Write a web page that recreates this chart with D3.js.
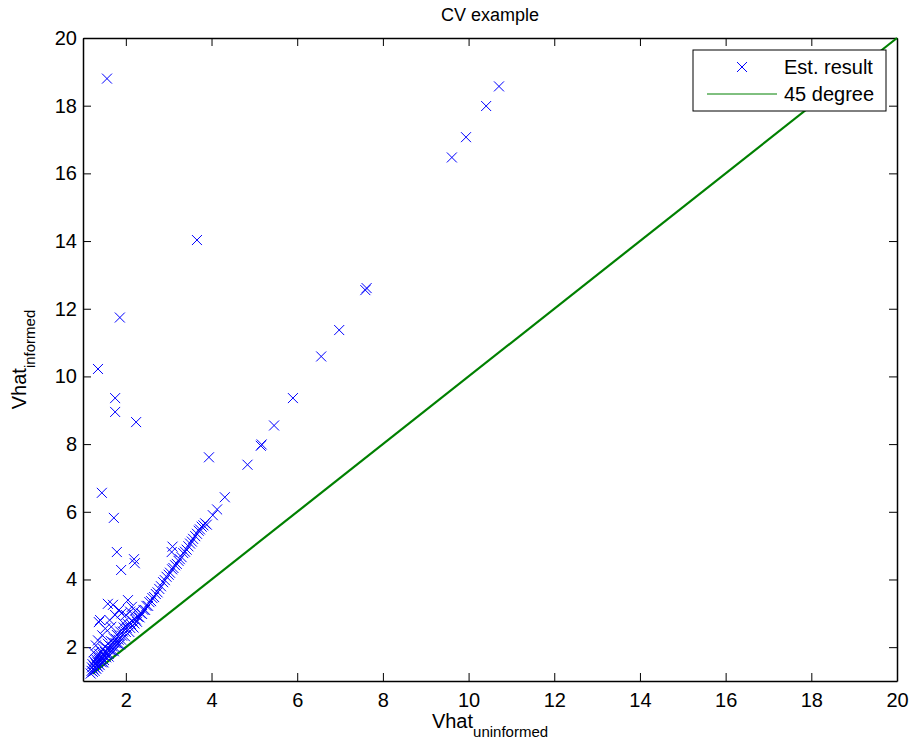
<!DOCTYPE html>
<html>
<head>
<meta charset="utf-8">
<script src="https://cdn.jsdelivr.net/npm/d3@7"></script>
<style>
  body { margin: 0; background: #fff; }
  text { font-family: "Liberation Sans", Arial, sans-serif; fill: #000; }
</style>
</head>
<body>
<div id="chart"></div>
<script>
// estimated results (Vhat uninformed, Vhat informed)
const vhatUninformed = [
  1.56, 3.66, 1.86, 1.35, 1.75, 1.75, 2.24, 3.94, 1.44, 1.72, 1.79, 1.89, 2.19, 2.21, 3.09, 3.07,
  10.71, 10.41, 9.94, 9.61, 7.62, 7.59, 6.98, 6.56, 5.90, 5.46, 5.15, 5.17, 4.84, 4.31, 4.13, 4.03, 3.89,
  1.18, 1.20, 1.21, 1.22, 1.23, 1.24, 1.25, 1.26, 1.27, 1.28, 1.29, 1.30, 1.31, 1.32, 1.33, 1.34,
  1.35, 1.36, 1.37, 1.38, 1.39, 1.40, 1.41, 1.42, 1.44, 1.45, 1.46, 1.47, 1.49, 1.50, 1.51, 1.52,
  1.54, 1.55, 1.57, 1.58,
  1.60, 1.62, 1.63, 1.65, 1.67, 1.68, 1.70, 1.72, 1.74, 1.76, 1.77, 1.79, 1.81, 1.83, 1.85, 1.87,
  1.89, 1.91, 1.93, 1.95, 1.98, 2.00, 2.02, 2.05, 2.08, 2.10, 2.12, 2.15, 2.18, 2.20, 2.23,
  2.26, 2.28, 2.32, 2.35, 2.38, 2.41, 2.45, 2.48, 2.52, 2.55, 2.59, 2.62, 2.66, 2.70, 2.74, 2.78, 2.82,
  2.87, 2.91, 2.95, 3.00, 3.03, 3.08, 3.11, 3.15, 3.19, 3.23, 3.26, 3.30, 3.34, 3.38, 3.42, 3.46,
  3.50, 3.54, 3.57, 3.62, 3.66, 3.70, 3.73, 3.77, 3.81, 3.85,
  1.37, 1.40, 1.58, 1.70, 1.75, 1.90, 2.05, 2.14, 1.94, 1.62, 2.22, 1.52, 1.45, 1.84, 1.66, 2.00,
  2.10, 1.30, 1.25, 1.35, 1.48, 1.60, 1.72, 1.86
];
const vhatInformed = [
  18.80, 14.03, 11.74, 10.22, 9.36, 8.95, 8.65, 7.61, 6.56, 5.82, 4.81, 4.28, 4.60, 4.48, 4.97, 4.81,
  18.57, 17.99, 17.07, 16.47, 12.61, 12.55, 11.37, 10.59, 9.36, 8.55, 7.95, 7.99, 7.39, 6.43, 6.07, 5.90, 5.62,
  1.22, 1.30, 1.40, 1.50, 1.27, 1.35, 1.45, 1.58, 1.30, 1.40, 1.52, 1.65, 1.36, 1.46, 1.57, 1.72,
  1.42, 1.52, 1.63, 1.80, 1.47, 1.58, 1.70, 1.88, 1.55, 1.66, 1.78, 1.95, 1.62, 1.74, 1.86, 2.02,
  1.70, 1.82, 1.94, 2.10,
  1.80, 1.92, 2.04, 2.18, 1.90, 2.02, 2.14, 2.26, 2.00, 2.12, 2.24, 2.36, 2.10, 2.22, 2.34, 2.46,
  2.22, 2.34, 2.46, 2.58, 2.32, 2.45, 2.57, 2.68, 2.45, 2.57, 2.68, 2.78, 2.58, 2.70, 2.82,
  2.75, 2.90, 2.88, 3.00, 2.98, 3.10, 3.10, 3.22, 3.22, 3.33, 3.36, 3.45, 3.48, 3.57, 3.62, 3.72, 3.80,
  3.92, 3.98, 4.08, 4.14, 4.20, 4.30, 4.34, 4.42, 4.46, 4.55, 4.60, 4.66, 4.78, 4.82, 4.88, 4.98,
  5.06, 5.12, 5.20, 5.28, 5.35, 5.44, 5.48, 5.56, 5.60, 5.66,
  2.74, 2.80, 3.28, 3.25, 2.95, 3.00, 3.39, 3.19, 2.71, 2.80, 3.08, 2.55, 2.35, 3.10, 2.60, 2.95,
  3.05, 2.05, 1.85, 2.20, 1.55, 1.72, 1.88, 2.08
];
// 45 degree reference line
const lineX = [1.22, 20];
const xTicks = [2, 4, 6, 8, 10, 12, 14, 16, 18, 20];
const yTicks = [2, 4, 6, 8, 10, 12, 14, 16, 18, 20];

const points = vhatUninformed.map((x, i) => ({ x: x, y: vhatInformed[i] }));

const margin = { top: 38, right: 14, bottom: 68, left: 83 };
const width = 911 - margin.left - margin.right;
const height = 749 - margin.top - margin.bottom;

const root = d3
  .select('#chart')
  .append('svg')
  .attr('width', 911)
  .attr('height', 749);

const svg = root
  .append('g')
  .attr('transform', `translate(${margin.left},${margin.top})`);

const xScale = d3.scaleLinear().domain([1, 20]).range([0, width]);
const yScale = d3.scaleLinear().domain([1, 20]).range([height, 0]);

// axes with inward ticks on all four sides
svg
  .append('g')
  .attr('class', 'x-axis')
  .attr('transform', `translate(0,${height})`)
  .call(d3.axisBottom(xScale).tickValues(xTicks).tickSize(-8).tickSizeOuter(0).tickPadding(12));

svg
  .append('g')
  .call(d3.axisTop(xScale).tickValues(xTicks).tickSize(-8).tickSizeOuter(0).tickFormat(''));

svg
  .append('g')
  .attr('class', 'y-axis')
  .call(d3.axisLeft(yScale).tickValues(yTicks).tickSize(-8).tickSizeOuter(0).tickPadding(6));

svg
  .append('g')
  .attr('transform', `translate(${width},0)`)
  .call(d3.axisRight(yScale).tickValues(yTicks).tickSize(-8).tickSizeOuter(0).tickFormat(''));

svg.selectAll('.domain').attr('stroke', '#000').attr('stroke-width', 1.5);
svg.selectAll('.tick line').attr('stroke', '#000');
svg
  .selectAll('.tick text')
  .style('font-size', '20px')
  .style('font-family', '"Liberation Sans", Arial, sans-serif');

// 45 degree line
svg
  .append('path')
  .datum(lineX)
  .attr('fill', 'none')
  .attr('stroke', '#008000')
  .attr('stroke-width', 2.2)
  .attr('d', d3.line().x((d) => xScale(d)).y((d) => yScale(d)));

const cross = 'M-5,-5L5,5M-5,5L5,-5';

svg
  .selectAll('path.pt')
  .data(points)
  .enter()
  .append('path')
  .attr('class', 'pt')
  .attr('d', cross)
  .attr('transform', (d) => `translate(${xScale(d.x)},${yScale(d.y)})`)
  .attr('fill', 'none')
  .attr('stroke', '#0000ff')
  .attr('stroke-width', 1);

// legend
const legend = svg.append('g').attr('transform', `translate(${width - 204},12)`);

legend
  .append('rect')
  .attr('x', 0)
  .attr('y', 0)
  .attr('width', 193)
  .attr('height', 61)
  .attr('fill', '#fff')
  .attr('stroke', '#000')
  .attr('stroke-width', 1);

legend
  .append('path')
  .attr('d', cross)
  .attr('transform', 'translate(49,17)')
  .attr('fill', 'none')
  .attr('stroke', '#0000ff');

legend
  .append('line')
  .attr('x1', 14)
  .attr('x2', 84)
  .attr('y1', 44)
  .attr('y2', 44)
  .attr('stroke', '#008000')
  .attr('stroke-width', 1);

legend
  .append('text')
  .attr('x', 91)
  .attr('y', 24)
  .style('font-size', '20px')
  .text('Est. result');

legend
  .append('text')
  .attr('x', 91)
  .attr('y', 51)
  .style('font-size', '20px')
  .text('45 degree');

// title and axis labels
root
  .append('text')
  .attr('x', margin.left + width / 2)
  .attr('y', 21)
  .style('text-anchor', 'middle')
  .style('font-size', '18px')
  .text('CV example');

const xLabel = root
  .append('text')
  .attr('x', margin.left + width / 2)
  .attr('y', 728)
  .style('text-anchor', 'middle')
  .style('font-size', '20px');
xLabel.append('tspan').text('Vhat');
xLabel.append('tspan').attr('dy', 9).style('font-size', '15px').text('uninformed');

const yLabel = root
  .append('text')
  .attr('transform', `translate(26,${margin.top + height / 2}) rotate(-90)`)
  .style('text-anchor', 'middle')
  .style('font-size', '20px');
yLabel.append('tspan').text('Vhat');
yLabel.append('tspan').attr('dy', 9).style('font-size', '15px').text('informed');
</script>
</body>
</html>
